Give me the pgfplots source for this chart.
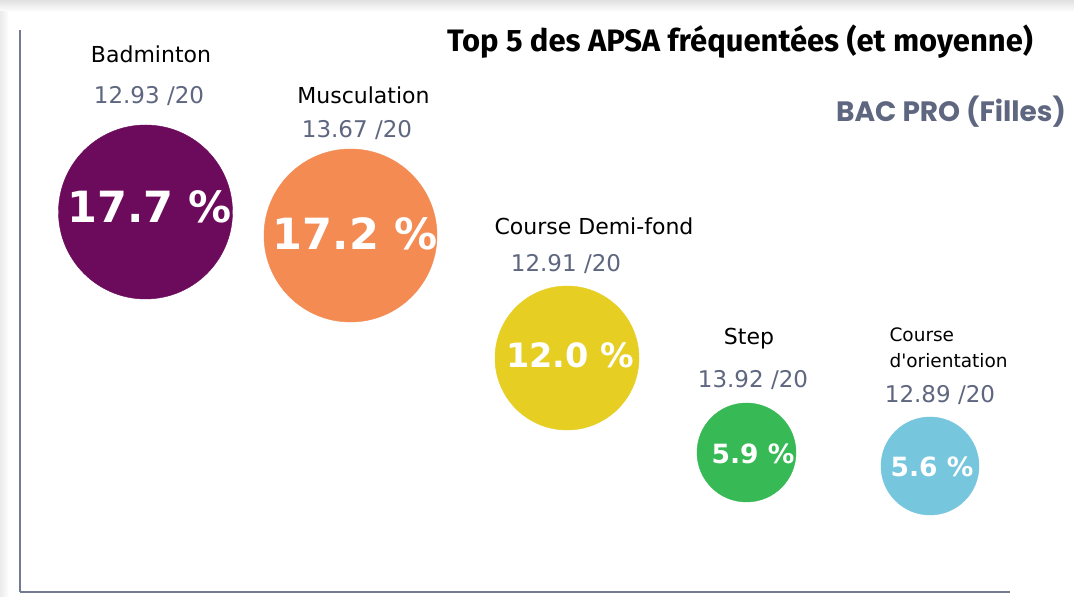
\documentclass[border=0pt]{standalone}
\usepackage{pgfplots}
\pgfplotsset{compat=1.18}
\usepackage{fontspec}
\setmainfont{DejaVu Sans}
\newfontfamily\titlefont{Fira Sans}
\newfontfamily\subfont{Poppins}
\definecolor{cBad}{HTML}{6C0A5C}
\definecolor{cMus}{HTML}{F38B53}
\definecolor{cDemi}{HTML}{E6CE22}
\definecolor{cStep}{HTML}{37B955}
\definecolor{cOri}{HTML}{76C6DE}
\definecolor{cgray}{HTML}{5E6680}
\definecolor{axgray}{HTML}{737A94}
\newcommand{\fs}[1]{\fontsize{#1}{#1}\selectfont}
\pgfplotsset{bubble/.style n args={5}{only marks, mark=*, color=#1, mark options={fill=#1},
  mark size=#2pt, point meta=explicit symbolic, nodes near coords,
  every node near coord/.style={anchor=base, white, font=\bfseries\fs{#3}, xshift=#4pt, yshift=#5pt}}}
\begin{document}
\begin{tikzpicture}
% page background with the light screenshot shadow
\fill[white] (0,0) rectangle (1074pt,597pt);
\shade[top color=black!12, bottom color=white] (0,585pt) rectangle (1074pt,597pt);
\shade[left color=black!8, right color=white] (0,0) rectangle (9pt,585pt);
\begin{axis}[at={(20pt,5pt)}, anchor=south west,
 width=990pt, height=562pt, scale only axis,
 xmin=20, xmax=1010, ymin=5, ymax=567,
 axis x line*=bottom, axis y line*=left,
 xtick=\empty, ytick=\empty,
 axis line style={axgray, line width=2.5pt},
 clip=false]
% bubbles: centre (x, y), radius in px, share as label
\addplot[bubble={cBad}{87}{43}{4}{-11}] coordinates {(145.5,385) [17.7 \%]};
\addplot[bubble={cMus}{86.5}{43}{4.5}{-14.5}] coordinates {(350.5,361.5) [17.2 \%]};
\addplot[bubble={cDemi}{72}{33.5}{3}{-10}] coordinates {(567,239) [12.0 \%]};
\addplot[bubble={cStep}{49.5}{26.5}{6.5}{-11.5}] coordinates {(746.5,144.5) [5.9 \%]};
\addplot[bubble={cOri}{49}{26.5}{2}{-11}] coordinates {(930,131) [5.6 \%]};
% names
\node[anchor=base, font=\fs{22}] at (axis cs:151,534) {Badminton};
\node[anchor=base, font=\fs{22}] at (axis cs:363.5,493) {Musculation};
\node[anchor=base, font=\fs{22}] at (axis cs:594,362) {Course Demi-fond};
\node[anchor=base, font=\fs{22}] at (axis cs:749,252) {Step};
\node[anchor=base west, font=\fs{18.5}] at (axis cs:886,255) {Course};
\node[anchor=base west, font=\fs{18.5}] at (axis cs:886,229) {d\textquotesingle orientation};
% averages
\node[anchor=base, cgray, font=\fs{23}] at (axis cs:149,493) {12.93 /20};
\node[anchor=base, cgray, font=\fs{23}] at (axis cs:357,459) {13.67 /20};
\node[anchor=base, cgray, font=\fs{23}] at (axis cs:566,325) {12.91 /20};
\node[anchor=base, cgray, font=\fs{23}] at (axis cs:753,209) {13.92 /20};
\node[anchor=base, cgray, font=\fs{23}] at (axis cs:940,194) {12.89 /20};
% titles
\node[anchor=base, font=\titlefont\bfseries\fs{31}] at (axis cs:740,545) {Top 5 des APSA fréquentées (et moyenne)};
\node[anchor=base, cgray, font=\subfont\bfseries\fs{28}] at (axis cs:951,475) {BAC PRO (Filles)};
\end{axis}
\end{tikzpicture}
\end{document}
